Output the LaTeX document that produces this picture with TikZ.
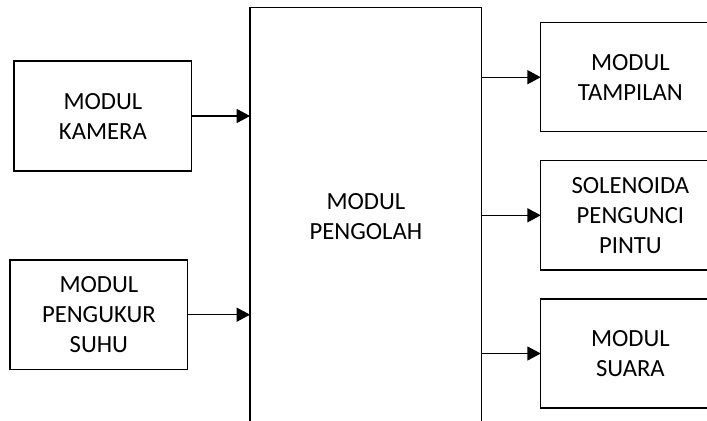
\documentclass[tikz,border=0pt]{standalone}
\usepackage{fontspec}
\setmainfont{Carlito}
\usetikzlibrary{arrows.meta}
\begin{document}
\begin{tikzpicture}[x=0.75pt,y=-0.75pt,
  box/.style={draw,line width=0.9pt,inner sep=0pt,outer sep=0pt,align=center,
    font=\fontsize{18.5}{22.5}\selectfont},
  conn/.style={line width=0.9pt,-{Triangle[length=10pt,width=10.5pt]}}]
\useasboundingbox (0,0) rectangle (707,421);
\clip (0,0) rectangle (707,421);
\node[box,minimum width=133.3pt,minimum height=82.5pt] (kam) at (102.9,116) {MODUL\\KAMERA};
\node[box,minimum width=133.3pt,minimum height=82pt] (suh) at (98.9,314.7) {MODUL\\PENGUKUR\\SUHU};
\node[box,minimum width=173.8pt,minimum height=314.5pt] (pen) at (365.9,217) {MODUL\\PENGOLAH};
\node[box,minimum width=134.5pt,minimum height=81.75pt] (tam) at (630.4,77.2) {MODUL\\TAMPILAN};
\node[box,minimum width=134.5pt,minimum height=82pt] (sol) at (630.4,215.3) {SOLENOIDA\\PENGUNCI\\PINTU};
\node[box,minimum width=134.5pt,minimum height=81.75pt] (sua) at (630.4,353.5) {MODUL\\SUARA};
\draw[conn] (kam.east) -- (kam.east -| pen.west);
\draw[conn] (suh.east) -- (suh.east -| pen.west);
\draw[conn] (tam.west -| pen.east) -- (tam.west);
\draw[conn] (sol.west -| pen.east) -- (sol.west);
\draw[conn] (sua.west -| pen.east) -- (sua.west);
\end{tikzpicture}
\end{document}
